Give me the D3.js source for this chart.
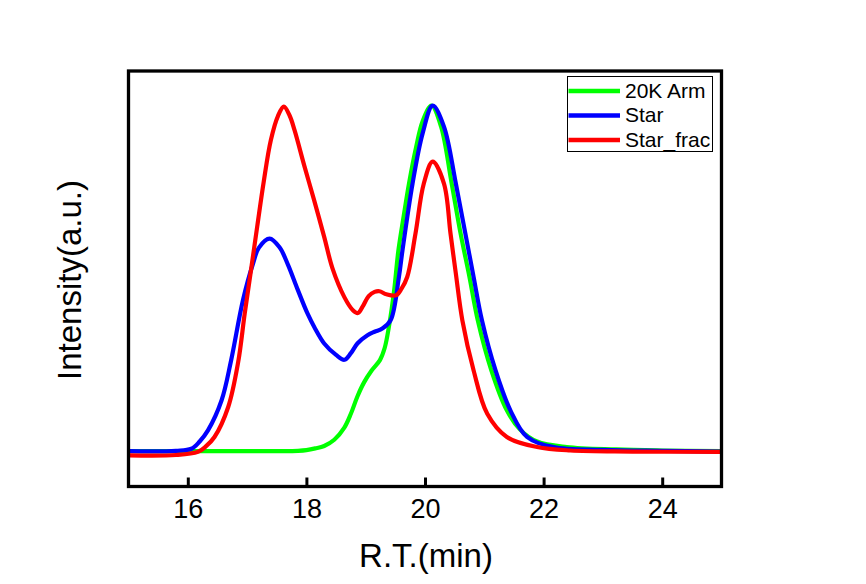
<!DOCTYPE html>
<html>
<head>
<meta charset="utf-8">
<script src="https://cdn.jsdelivr.net/npm/d3@7"></script>
<style>
  html, body { margin: 0; padding: 0; background: #fff; }
  text { font-family: "Liberation Sans", Arial, sans-serif; }
</style>
</head>
<body>
<svg id="chart" width="866" height="584"></svg>
<script>
// ---- data (retention time in min, intensity in a.u.) ----
const seriesNames = ["20K Arm", "Star", "Star_frac"];
const seriesColors = ["#00ff00", "#0000ff", "#ff0000"];
const xTicks = [16, 18, 20, 22, 24];

const armX = [15, 16, 17, 17.6, 17.86, 18.0, 18.15, 18.3, 18.47, 18.64, 18.75, 18.86, 18.97, 19.1, 19.24, 19.32, 19.39, 19.48, 19.55, 19.64, 19.73, 19.85, 19.96, 20.11, 20.27, 20.45, 20.6, 20.75, 20.89, 21.12, 21.38, 21.6, 21.89, 22.39, 23.23, 24, 25];
const armY = [0.002, 0.002, 0.002, 0.002, 0.003, 0.005, 0.01, 0.017, 0.035, 0.07, 0.11, 0.16, 0.2, 0.235, 0.265, 0.3, 0.36, 0.467, 0.58, 0.68, 0.775, 0.88, 0.955, 1.0, 0.94, 0.775, 0.631, 0.505, 0.38, 0.235, 0.12, 0.065, 0.03, 0.014, 0.007, 0.004, 0.002];

const starX = [15, 15.8, 16.06, 16.2, 16.34, 16.57, 16.73, 16.93, 17.1, 17.2, 17.38, 17.55, 17.69, 17.85, 18.02, 18.15, 18.3, 18.5, 18.64, 18.75, 18.86, 19.03, 19.15, 19.28, 19.42, 19.56, 19.62, 19.79, 19.96, 20.13, 20.32, 20.52, 20.68, 20.82, 20.96, 21.19, 21.44, 21.72, 22.17, 23, 24, 25];
const starY = [0.002, 0.003, 0.009, 0.03, 0.062, 0.149, 0.264, 0.438, 0.544, 0.59, 0.616, 0.59, 0.54, 0.47, 0.399, 0.355, 0.313, 0.28, 0.266, 0.285, 0.313, 0.337, 0.347, 0.356, 0.38, 0.505, 0.582, 0.775, 0.92, 1.0, 0.939, 0.775, 0.631, 0.505, 0.38, 0.235, 0.12, 0.043, 0.014, 0.006, 0.003, 0.001];

const fracX = [15, 15.8, 16.17, 16.3, 16.45, 16.68, 16.85, 16.96, 17.07, 17.17, 17.28, 17.4, 17.52, 17.62, 17.72, 17.8, 17.97, 18.13, 18.3, 18.44, 18.64, 18.78, 18.87, 18.95, 19.05, 19.15, 19.23, 19.35, 19.51, 19.6, 19.7, 19.84, 19.98, 20.13, 20.32, 20.43, 20.52, 20.63, 20.82, 21.05, 21.38, 21.89, 22.45, 23.5, 25];
const fracY = [-0.01, -0.009, 0.0, 0.015, 0.043, 0.129, 0.26, 0.4, 0.53, 0.65, 0.78, 0.9, 0.97, 0.997, 0.97, 0.929, 0.823, 0.727, 0.621, 0.53, 0.447, 0.41, 0.401, 0.42, 0.45, 0.462, 0.464, 0.455, 0.452, 0.47, 0.505, 0.631, 0.775, 0.838, 0.775, 0.631, 0.515, 0.38, 0.235, 0.11, 0.043, 0.014, 0.004, 0.001, 0.0];

const seriesX = [armX, starX, fracX];
const seriesY = [armY, starY, fracY];

// ---- layout ----
const svg = d3.select("#chart");
const plotLeft = 128.5, plotRight = 721.5, plotTop = 71, plotBottom = 486.5;

const x = d3.scaleLinear().domain([15, 25]).range([plotLeft, plotRight]);
const y = d3.scaleLinear().domain([-0.1, 1.1]).range([plotBottom, plotTop]);

svg.append("rect").attr("width", 866).attr("height", 584).attr("fill", "#fff");

// curves
const line = d3.line()
  .x(d => x(d[0]))
  .y(d => y(d[1]))
  .curve(d3.curveCatmullRom.alpha(0.5));

const plot = svg.append("g");
seriesNames.forEach((name, i) => {
  const pts = seriesX[i].map((v, j) => [v, seriesY[i][j]]);
  plot.append("path")
    .datum(pts)
    .attr("d", line)
    .attr("fill", "none")
    .attr("stroke", seriesColors[i])
    .attr("stroke-width", 4.2)
    .attr("stroke-linejoin", "round")
    .attr("stroke-linecap", "butt");
});

// x axis (ticks inward)
const xAxis = d3.axisBottom(x)
  .tickValues(xTicks)
  .tickFormat(d3.format("d"))
  .tickSizeInner(-9)
  .tickSizeOuter(0)
  .tickPadding(12);

const gx = svg.append("g")
  .attr("transform", `translate(0,${plotBottom})`)
  .call(xAxis);
gx.select(".domain").remove();
gx.selectAll(".tick line").attr("stroke", "#000").attr("stroke-width", 3);
gx.selectAll(".tick text")
  .attr("fill", "#000")
  .style("font-size", "27px")
  .style("font-family", "'Liberation Sans', Arial, sans-serif");

// frame
svg.append("rect")
  .attr("x", plotLeft).attr("y", plotTop)
  .attr("width", plotRight - plotLeft).attr("height", plotBottom - plotTop)
  .attr("fill", "none")
  .attr("stroke", "#000")
  .attr("stroke-width", 3.3);

// axis titles
svg.append("text")
  .attr("x", 426).attr("y", 566.5)
  .attr("text-anchor", "middle")
  .style("font-size", "33px")
  .attr("fill", "#000")
  .text("R.T.(min)");

svg.append("text")
  .attr("transform", "translate(80.5,280) rotate(-90)")
  .attr("text-anchor", "middle")
  .style("font-size", "33px")
  .attr("fill", "#000")
  .text("Intensity(a.u.)");

// legend
const lg = svg.append("g");
lg.append("rect")
  .attr("x", 567.5).attr("y", 76.5)
  .attr("width", 145).attr("height", 75)
  .attr("fill", "#fff")
  .attr("stroke", "#000")
  .attr("stroke-width", 1);
const legendYs = [91, 115.5, 140];
seriesNames.forEach((name, i) => {
  lg.append("line")
    .attr("x1", 568.5).attr("x2", 620)
    .attr("y1", legendYs[i]).attr("y2", legendYs[i])
    .attr("stroke", seriesColors[i])
    .attr("stroke-width", 4.5);
  lg.append("text")
    .attr("x", 625).attr("y", legendYs[i] + 6.8)
    .style("font-size", "21px")
    .attr("fill", "#000")
    .text(name);
});
</script>
</body>
</html>
